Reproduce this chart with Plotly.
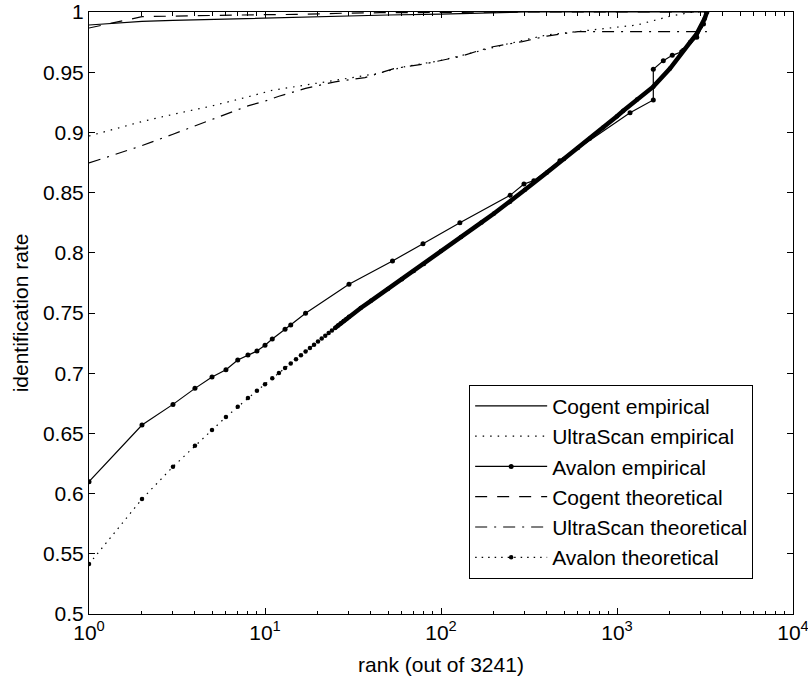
import plotly.graph_objects as go

# ---------------- data ----------------
cogent_emp_rank = [1, 2, 3, 5, 10, 20, 50, 100, 150, 200, 300, 3241]
cogent_emp_rate = [0.9892, 0.9922, 0.9930, 0.9939, 0.9950, 0.9961, 0.9975,
                   0.9983, 0.9990, 0.9995, 1.0, 1.0]

ultra_emp_rank = [1, 2, 3, 5, 8, 11, 20, 30, 44, 64, 99, 146, 237, 400, 700,
                  1000, 1300, 2000, 2500, 2700, 3241]
ultra_emp_rate = [0.897, 0.909, 0.915, 0.922, 0.9295, 0.935, 0.941, 0.945,
                  0.949, 0.955, 0.9596, 0.9656, 0.9734, 0.981, 0.985, 0.9875,
                  0.9892, 0.9965, 0.9995, 1.0, 1.0]

avalon_emp_rank = [1, 2, 3, 4, 5, 6, 7, 8, 9, 10, 11, 13, 14, 17, 30, 53, 79,
                   128, 247, 296, 337, 474, 1186, 1608, 1608, 1833, 2061, 2331,
                   2838, 3100, 3241]
avalon_emp_rate = [0.6099, 0.6570, 0.6741, 0.6874, 0.6968, 0.7029, 0.7110,
                   0.7151, 0.7184, 0.7232, 0.7284, 0.7365, 0.7400, 0.7497,
                   0.7738, 0.7932, 0.8076, 0.8250, 0.8477, 0.8571, 0.8599,
                   0.8765, 0.9164, 0.9269, 0.9524, 0.9596, 0.9640, 0.9670,
                   0.9790, 0.9900, 1.0]

cogent_th_rank = [1, 2, 3, 4, 5, 7, 10, 15, 20, 30, 45, 100, 300, 3241]
cogent_th_rate = [0.9867, 0.9961, 0.9966, 0.9970, 0.9974, 0.9977, 0.9978,
                  0.9980, 0.9987, 0.9991, 0.9994, 0.9997, 1.0, 1.0]

ultra_th_rank = [1, 2, 3, 4, 5, 6, 8, 10, 12, 17, 25, 37, 54, 80, 128, 190,
                 290, 400, 600, 3241]
ultra_th_rate = [0.8746, 0.8890, 0.8985, 0.9055, 0.9110, 0.9155, 0.9220,
                 0.9260, 0.9300, 0.9366, 0.9420, 0.9455, 0.9530, 0.9568,
                 0.9630, 0.9707, 0.9754, 0.9800, 0.9837, 0.9837]

avalon_th_rank = list(range(1, 31)) + [35, 40, 50, 60, 70, 80, 100, 130, 170,
                                       200, 247, 300, 400, 500, 600, 703, 836,
                                       1000, 1086, 1300, 1608, 2000, 2382,
                                       2600, 2838, 3000, 3150, 3241]
avalon_th_rate = [0.5415, 0.5955, 0.6223, 0.6398, 0.6528, 0.6636, 0.6722,
                  0.6794, 0.6855, 0.6908, 0.6958, 0.7002, 0.7043, 0.7081,
                  0.7116, 0.7149, 0.7180, 0.7209, 0.7237, 0.7263, 0.7288,
                  0.7311, 0.7334, 0.7355, 0.7376, 0.7396, 0.7415, 0.7433,
                  0.7451, 0.7468,
                  0.7542, 0.7601, 0.7700, 0.7781, 0.7849, 0.7908, 0.8015,
                  0.8132, 0.8252, 0.8326, 0.8425, 0.8523, 0.8667, 0.8779,
                  0.8870, 0.8950, 0.9040, 0.9135, 0.9180, 0.9274, 0.9380,
                  0.9530, 0.9684, 0.9748, 0.9818, 0.9880, 0.9945, 1.0]

x_tick_vals = [1, 10, 100, 1000, 10000]
x_tick_text = ["10<sup>0</sup>", "10<sup>1</sup>", "10<sup>2</sup>",
               "10<sup>3</sup>", "10<sup>4</sup>"]
x_minor_vals = [m * d for d in (1, 10, 100, 1000) for m in range(2, 10)]
y_tick_vals = [0.5, 0.55, 0.6, 0.65, 0.7, 0.75, 0.8, 0.85, 0.9, 0.95, 1.0]
y_tick_text = ["0.5", "0.55", "0.6", "0.65", "0.7", "0.75", "0.8", "0.85",
               "0.9", "0.95", "1"]

# ---------------- figure ----------------
FONT = "Liberation Sans, Arial, Helvetica, sans-serif"
FS = 21
BLK = "black"
LW = 1.2

fig = go.Figure()
fig.add_trace(go.Scatter(x=cogent_emp_rank, y=cogent_emp_rate, mode="lines",
                         name="Cogent empirical",
                         line=dict(color=BLK, width=LW)))
fig.add_trace(go.Scatter(x=ultra_emp_rank, y=ultra_emp_rate, mode="lines",
                         name="UltraScan empirical",
                         line=dict(color=BLK, width=LW, dash="1.5px,6px")))
fig.add_trace(go.Scatter(x=avalon_emp_rank, y=avalon_emp_rate,
                         mode="lines+markers", name="Avalon empirical",
                         line=dict(color=BLK, width=LW),
                         marker=dict(color=BLK, size=5)))
fig.add_trace(go.Scatter(x=cogent_th_rank, y=cogent_th_rate, mode="lines",
                         name="Cogent theoretical",
                         line=dict(color=BLK, width=LW, dash="12px,10px")))
fig.add_trace(go.Scatter(x=ultra_th_rank, y=ultra_th_rate, mode="lines",
                         name="UltraScan theoretical",
                         line=dict(color=BLK, width=LW,
                                   dash="12px,7px,2px,7px")))
fig.add_trace(go.Scatter(x=avalon_th_rank, y=avalon_th_rate,
                         mode="lines+markers", name="Avalon theoretical",
                         line=dict(color=BLK, width=LW, dash="1.5px,5px"),
                         marker=dict(color=BLK, size=4.5)))
# dense run of theoretical markers that merges into a thick curve
i0 = avalon_th_rank.index(25)
fig.add_trace(go.Scatter(x=avalon_th_rank[i0:], y=avalon_th_rate[i0:],
                         mode="lines", showlegend=False, hoverinfo="skip",
                         line=dict(color=BLK, width=4.5)))

axis_common = dict(showline=True, linecolor=BLK, linewidth=1, mirror="ticks",
                   ticks="inside", ticklen=6, tickwidth=1, tickcolor=BLK,
                   showgrid=False, zeroline=False, ticklabeloverflow="allow",
                   automargin=False,
                   tickfont=dict(family=FONT, size=FS, color=BLK))

fig.update_layout(
    width=808, height=679,
    margin=dict(l=89, r=15, t=12, b=65),
    paper_bgcolor="white", plot_bgcolor="white",
    font=dict(family=FONT, size=FS, color=BLK),
    xaxis=dict(type="log", range=[0, 4.00002], tickvals=x_tick_vals,
               ticktext=x_tick_text,
               minor=dict(tickvals=x_minor_vals, ticks="inside", ticklen=3.5,
                          tickcolor=BLK, tickwidth=1, showgrid=False),
               title=dict(text="rank (out of 3241)",
                          font=dict(family=FONT, size=FS, color=BLK),
                          standoff=14),
               **axis_common),
    yaxis=dict(range=[0.5, 1], tickvals=y_tick_vals, ticktext=y_tick_text,
               title=dict(text="identification rate",
                          font=dict(family=FONT, size=FS, color=BLK),
                          standoff=8),
               **axis_common),
    legend=dict(x=0.54, y=0.381, xanchor="left", yanchor="top",
                bgcolor="white", bordercolor=BLK, borderwidth=1,
                font=dict(family=FONT, size=FS, color=BLK),
                itemwidth=72, tracegroupgap=0),
    showlegend=True,
)

fig.write_html("out.html")
